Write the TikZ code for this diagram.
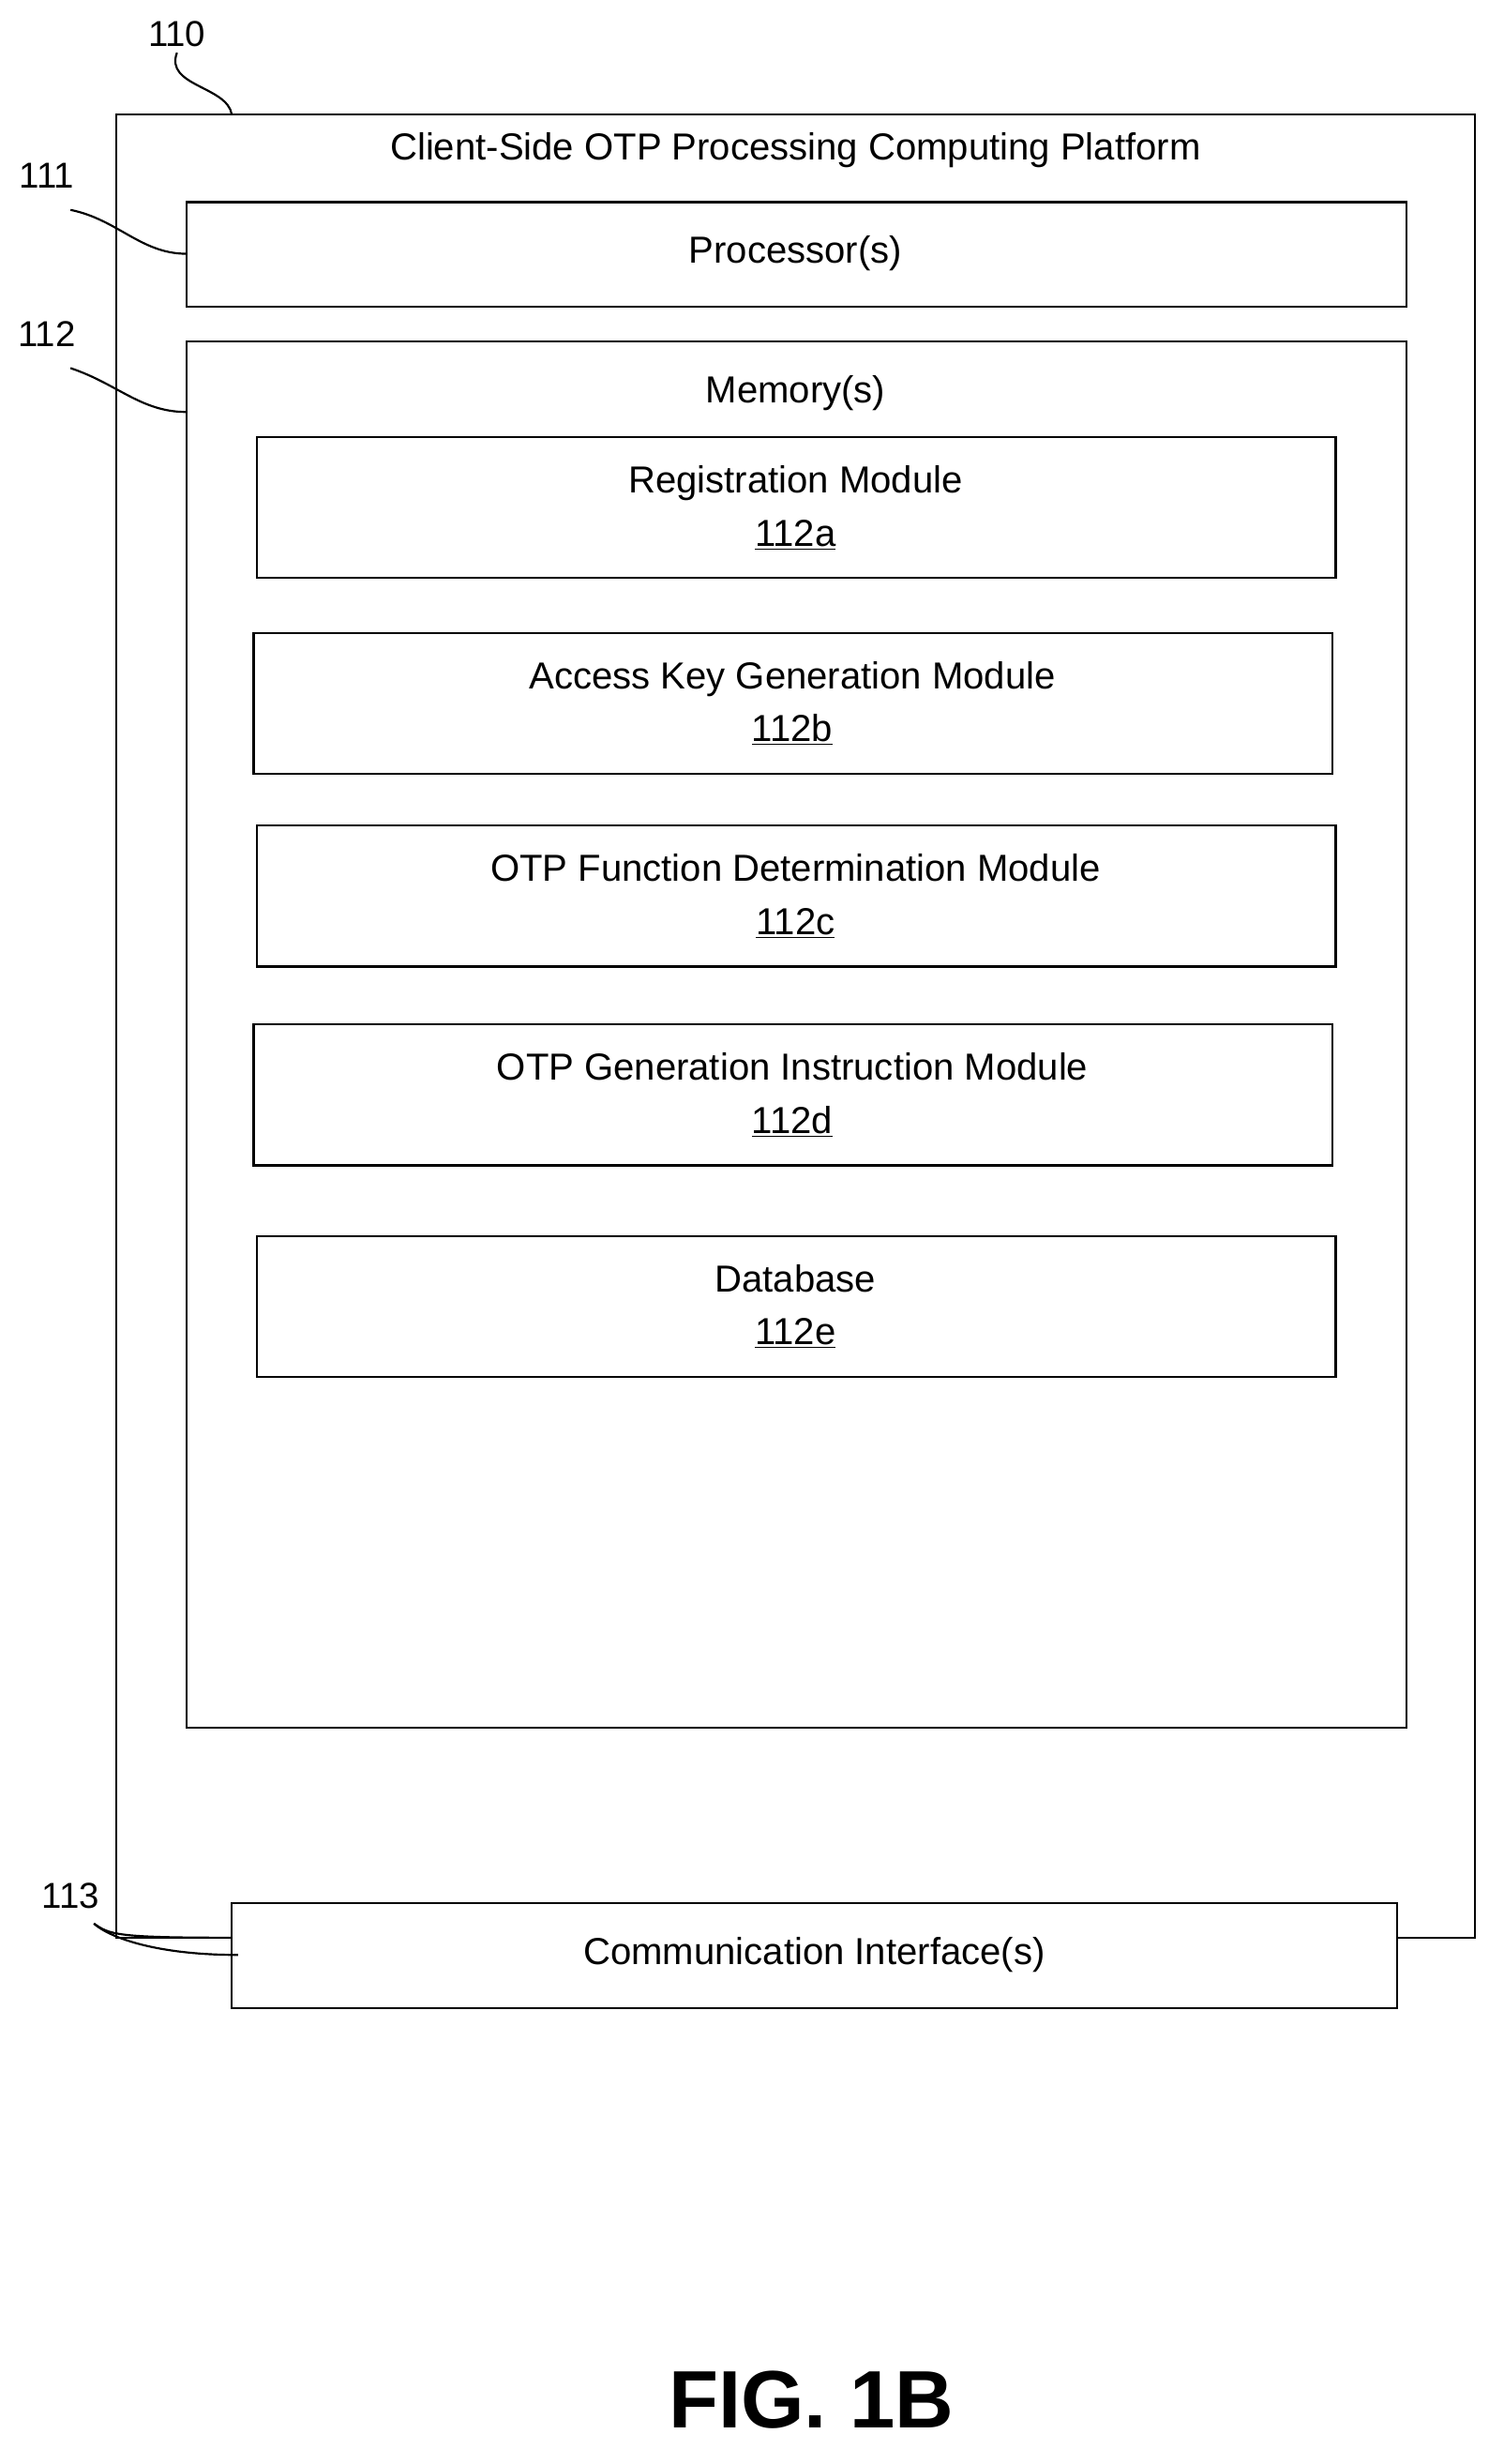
\documentclass[tikz,border=0pt]{standalone}
\usepackage{fontspec}
\setmainfont{Liberation Sans}
\begin{document}
\begin{tikzpicture}[x=1pt,y=-1pt,
  box/.style={draw,line width=1.3pt,fill=white},
  txt/.style={font=\fontsize{24}{28}\selectfont,align=center},
  lbl/.style={font=\fontsize{23}{27}\selectfont},
  lead/.style={line width=1.3pt}]

\useasboundingbox (0,0) rectangle (960,1573);

\draw [box] (74,73) rectangle (942,1237); % platform
\node [txt] (title) at (508,96) {Client-Side OTP Processing Computing Platform};
\draw [box] (119,129) rectangle (898,196); % processor
\node [txt] (proc) at (508,162) {Processor(s)};
\draw [box] (119,218) rectangle (898,1103); % memory
\node [txt] (mem) at (508,251) {Memory(s)};

\draw [box] (164,279) rectangle (853,369);
\node [txt] (moda) at (508,324) {Registration Module\\[6pt]\underline{112a}};
\draw [box] (162,404) rectangle (851,494);
\node [txt] (modb) at (506,449) {Access Key Generation Module\\[6pt]\underline{112b}};
\draw [box] (164,527) rectangle (853,617);
\node [txt] (modc) at (508,572) {OTP Function Determination Module\\[6pt]\underline{112c}};
\draw [box] (162,654) rectangle (851,744);
\node [txt] (modd) at (506,699) {OTP Generation Instruction Module\\[6pt]\underline{112d}};
\draw [box] (164,789) rectangle (853,879);
\node [txt] (mode) at (508,834) {Database\\[6pt]\underline{112e}};

\draw [box] (148,1215) rectangle (892,1282); % comm interface
\node [txt] (comm) at (520,1248) {Communication Interface(s)};

% reference labels
\node [lbl] (l110) at (113,22) {110};
\node [lbl] (l111) at (30,112) {111};
\node [lbl] (l112) at (30,213) {112};
\node [lbl] (l113) at (45,1210) {113};
\node [lbl] at (518,1532) {\fontsize{52}{56}\selectfont\bfseries FIG. 1B};

\draw [lead] (l110.south) .. controls (105,55) and (145,55) .. (148,73);
\draw [lead] (45,134) .. controls (75,140) and (90,162) .. (119,162);
\draw [lead] (45,235) .. controls (75,245) and (90,263) .. (119,263);
\draw [lead] (60,1228) .. controls (70,1237) and (100,1248) .. (152,1248);
\draw [lead] (60,1228) .. controls (70,1235) and (74,1237) .. (148,1237);
\end{tikzpicture}
\end{document}
